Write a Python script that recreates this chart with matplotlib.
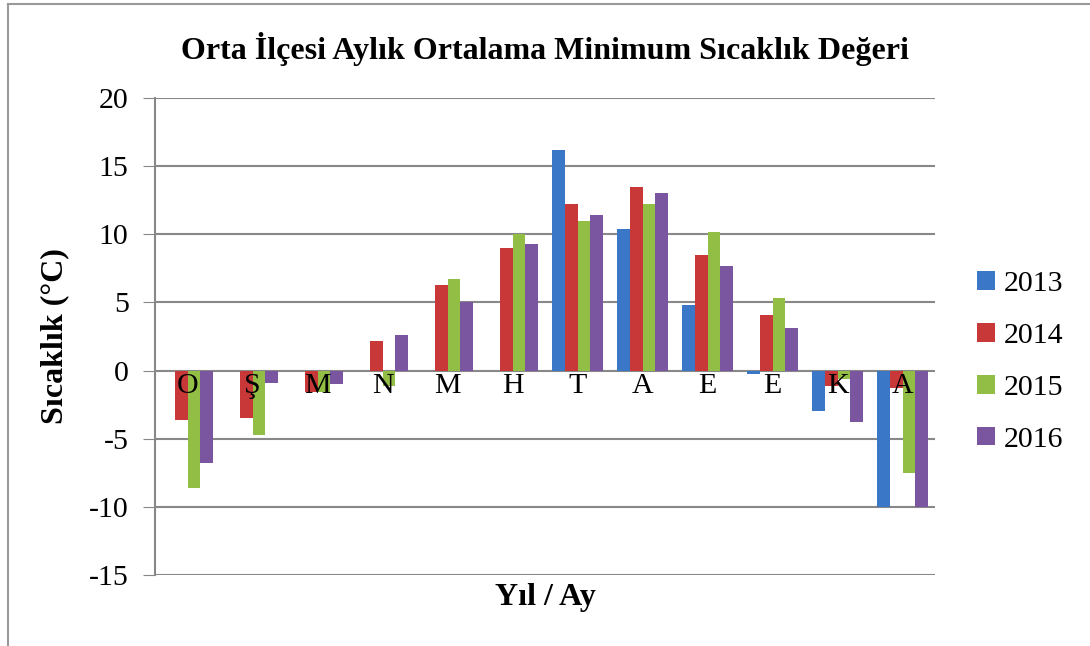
import numpy as np
import matplotlib.pyplot as plt
from matplotlib.lines import Line2D
from matplotlib.patches import Patch

plt.rcParams['font.family'] = ['Liberation Serif', 'DejaVu Serif']
plt.rcParams['axes.unicode_minus'] = False

# Data
months = ['O', 'Ş', 'M', 'N', 'M', 'H', 'T', 'A', 'E', 'E', 'K', 'A']
years = ['2013', '2014', '2015', '2016']
t2013 = [np.nan, np.nan, np.nan, np.nan, np.nan, np.nan, 16.2, 10.4, 4.8, -0.25, -3.0, -10.0]
t2014 = [-3.6, -3.5, -1.55, 2.2, 6.3, 9.0, 12.25, 13.5, 8.5, 4.1, -1.15, -1.3]
t2015 = [-8.65, -4.7, -1.55, -1.1, 6.7, 10.0, 10.95, 12.25, 10.2, 5.3, -0.6, -7.5]
t2016 = [-6.75, -0.9, -1.0, 2.6, 5.0, 9.3, 11.45, 13.0, 7.65, 3.1, -3.8, -10.0]
series = [t2013, t2014, t2015, t2016]
colors = ['#3A77C6', '#C93838', '#93BE45', '#7A55A0']

fig = plt.figure(figsize=(10.9, 6.46), dpi=100)
ax = fig.add_axes([155/1090, 1-575/646, 780/1090, 477/646])

x = np.arange(len(months))
w = 0.195
for i, (vals, c) in enumerate(zip(series, colors)):
    ax.bar(x + (i - 1.5) * w, vals, width=w, color=c, zorder=3)

ax.set_xlim(-0.5, len(months) - 0.5)
ax.set_ylim(-15, 20)
ax.set_yticks(np.arange(-15, 21, 5))
ax.set_xticks([])
ax.tick_params(axis='y', labelsize=21.5, length=9, color='#888888', pad=10)
ax.grid(axis='y', color='#888888', linewidth=1.5, zorder=0)
for s in ['top', 'right', 'bottom']:
    ax.spines[s].set_visible(False)
ax.spines['left'].set_color('#888888')
ax.spines['left'].set_linewidth(1.5)

# month labels sit right under the zero line
for xi, m in zip(x, months):
    ax.text(xi, -0.2, m, ha='center', va='top', fontsize=21.5, zorder=4)

ax.set_title('Orta İlçesi Aylık Ortalama Minimum Sıcaklık Değeri',
             fontsize=23, fontweight='bold', pad=28)
ax.set_ylabel('Sıcaklık (°C)', fontsize=23, fontweight='bold', labelpad=14)
ax.set_xlabel('Yıl / Ay', fontsize=23, fontweight='bold', labelpad=6)

handles = [Patch(facecolor=c) for c in colors]
fig.legend(handles, years, loc='center left', bbox_to_anchor=(950/1090, 1-362/646),
           frameon=False, fontsize=21.5, handlelength=0.6, handleheight=0.6,
           handletextpad=0.3, labelspacing=0.86)

# outer chart frame (left and top edges)
fig.add_artist(Line2D([8/1090, 8/1090], [0, 1-4/646], color='#999999', lw=1.5))
fig.add_artist(Line2D([8/1090, 1], [1-4/646, 1-4/646], color='#999999', lw=1.5))

fig.savefig('out.png', dpi=100)
